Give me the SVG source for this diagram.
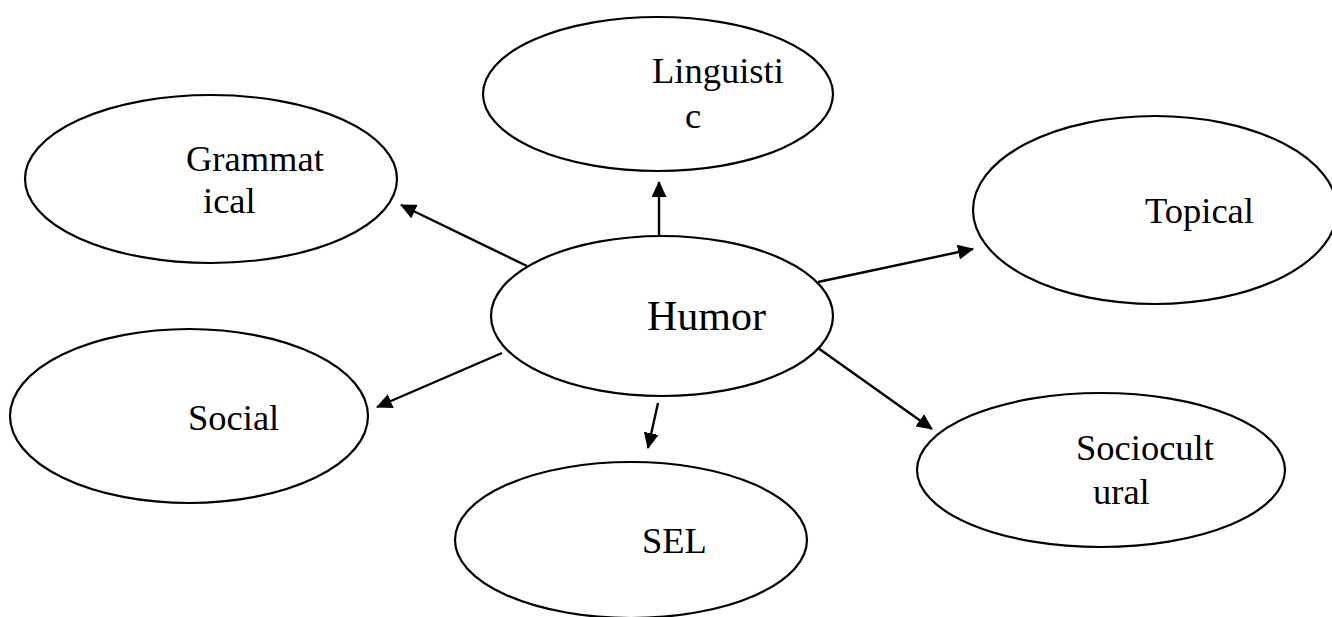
<svg xmlns="http://www.w3.org/2000/svg" width="1332" height="617" viewBox="0 0 1332 617">
<style>
.node ellipse{fill:#fff;stroke:#000;stroke-width:2.2}
.node text{font-family:"Liberation Serif","Times New Roman",serif;font-size:36.5px;fill:#000}
#humor text{font-size:42px}
.conn line{stroke:#000;stroke-width:2.4;marker-end:url(#arr)}
</style>
<defs>
<marker id="arr" markerUnits="userSpaceOnUse" markerWidth="16" markerHeight="15" refX="15" refY="7.5" orient="auto">
<path d="M0,0 L16,7.5 L0,15 Z" fill="#000"/>
</marker>
</defs>
<rect width="1332" height="617" fill="#fff"/>
<g id="linguistic" class="node">
<ellipse cx="658" cy="94" rx="175" ry="77"/>
<text x="652" y="83">Linguisti</text>
<text x="685" y="128">c</text>
</g>
<g id="grammatical" class="node">
<ellipse cx="211" cy="179" rx="186" ry="84"/>
<text x="186" y="171">Grammat</text>
<text x="203" y="213">ical</text>
</g>
<g id="topical" class="node">
<ellipse cx="1155" cy="210" rx="182" ry="94"/>
<text x="1145" y="223">Topical</text>
</g>
<g id="social" class="node">
<ellipse cx="189" cy="416" rx="179" ry="87"/>
<text x="188" y="430">Social</text>
</g>
<g id="sel" class="node">
<ellipse cx="631" cy="540" rx="176" ry="78"/>
<text x="642" y="553">SEL</text>
</g>
<g id="sociocultural" class="node">
<ellipse cx="1101" cy="470" rx="184" ry="77"/>
<text x="1076" y="460">Sociocult</text>
<text x="1093" y="504">ural</text>
</g>
<g id="humor" class="node">
<ellipse cx="662" cy="316" rx="171" ry="80"/>
<text x="647" y="330">Humor</text>
</g>
<g id="connectors" class="conn">
<line x1="659" y1="236" x2="659" y2="182"/>
<line x1="527" y1="266" x2="401" y2="205"/>
<line x1="818" y1="282" x2="973" y2="249"/>
<line x1="502" y1="353" x2="377" y2="407"/>
<line x1="658" y1="403" x2="648" y2="448"/>
<line x1="818" y1="348" x2="932" y2="429"/>
</g>
</svg>
